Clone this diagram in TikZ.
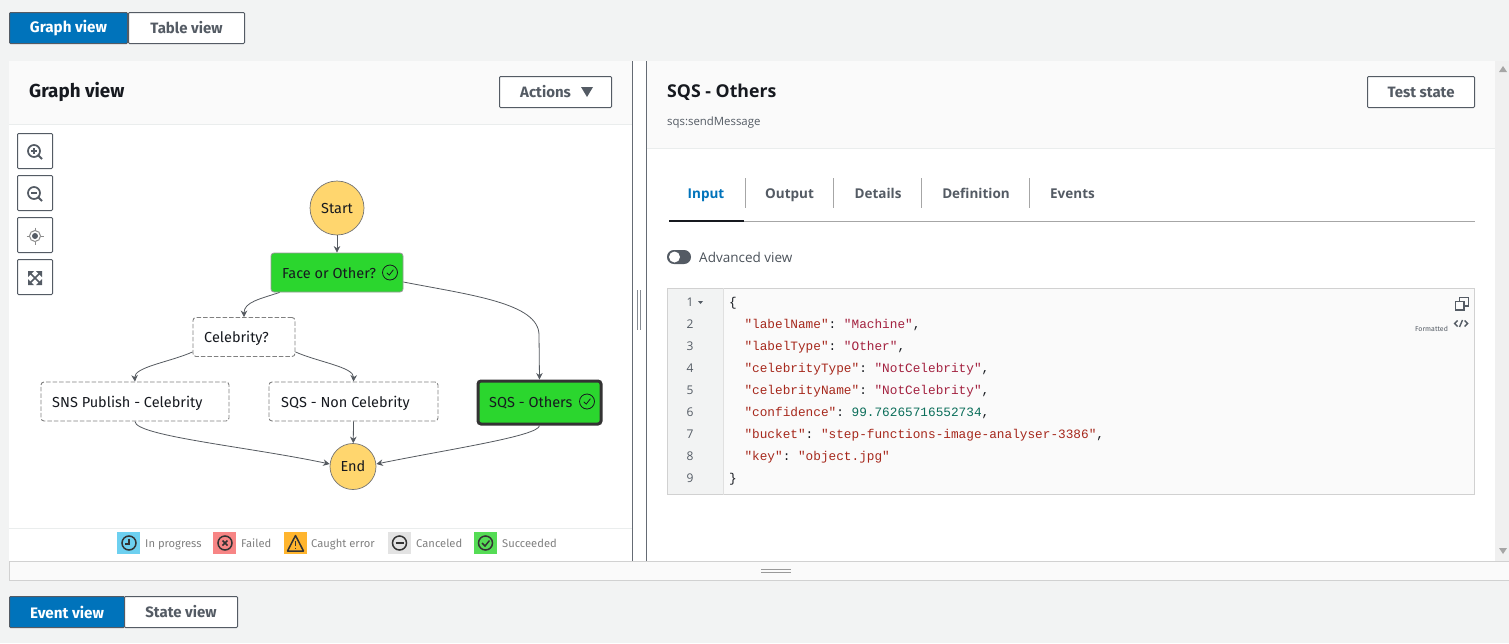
\documentclass[tikz,border=0pt]{standalone}
\usepackage{fontspec}
\usetikzlibrary{arrows.meta}
\setmainfont{Fira Sans}
\newfontfamily\panelfont{Open Sans}
\setmonofont{Liberation Mono}
\definecolor{pagebg}{HTML}{F2F3F3}
\definecolor{headbg}{HTML}{FAFAFA}
\definecolor{rulegrey}{HTML}{EAEDED}
\definecolor{awsblue}{HTML}{0073BB}
\definecolor{inkdark}{HTML}{16191F}
\definecolor{inkgrey}{HTML}{545B64}
\definecolor{okgreen}{HTML}{2BD62E}
\definecolor{startyellow}{HTML}{FFD66E}
\definecolor{edgegrey}{HTML}{555A60}
\definecolor{jsonkey}{HTML}{A6281C}
\definecolor{jsonstr}{HTML}{A3213F}
\definecolor{jsonnum}{HTML}{0B6E5A}
\tikzstyle{state}=[rounded corners=3pt,draw=black!40,line width=0.8pt,inner sep=0pt]
\tikzstyle{idle}=[state,draw=black!50,dash pattern=on 4.5pt off 2pt,line width=0.9pt,fill=white]
\tikzstyle{done}=[state,fill=okgreen]
\tikzstyle{terminal}=[circle,draw=black!55,line width=0.7pt,fill=startyellow,inner sep=0pt,font=\fontsize{14.5}{14}\selectfont,text=inkdark]
\tikzstyle{edge}=[edgegrey,line width=0.8pt,-{Stealth[length=6.5pt,width=6.5pt]}]
\tikzstyle{tabon}=[fill=awsblue,draw=inkgrey,line width=1pt,text=white,font=\fontsize{15.2}{14}\selectfont\bfseries,rounded corners=1pt,inner sep=0pt]
\tikzstyle{taboff}=[fill=white,draw=inkgrey,line width=1pt,text=inkgrey,font=\fontsize{15}{14}\selectfont\bfseries,rounded corners=1pt,inner sep=0pt]
\tikzstyle{legendtext}=[anchor=mid west,yshift=-1pt,inner sep=0pt,text=black!50,font=\fontsize{11.2}{12}\selectfont]
\tikzstyle{lefttext}=[anchor=mid west,yshift=-2.5pt,inner sep=0pt]
\tikzstyle{statetext}=[lefttext,text=inkdark,font=\fontsize{14.5}{14}\selectfont]
\tikzstyle{paneltab}=[anchor=mid,yshift=-2pt,inner sep=0pt,text=inkgrey,font=\panelfont\fontsize{13.5}{14}\selectfont\bfseries]
\tikzstyle{codeline}=[anchor=mid west,yshift=-2.2pt,inner sep=0pt,font=\ttfamily\fontsize{12.75}{14}\selectfont,text=inkdark]
\newcommand{\jkey}[1]{\textcolor{jsonkey}{#1}}
\newcommand{\jstr}[1]{\textcolor{jsonstr}{#1}}
\newcommand{\jnum}[1]{\textcolor{jsonnum}{#1}}
\newcommand{\okmark}[2]{%
  \draw[inkdark,line width=0.8pt] (#1,#2) circle (7.5pt);
  \draw[inkdark,line width=0.8pt] (#1-3.2,#2+0.3) -- (#1-0.8,#2+2.6) -- (#1+3.4,#2-2.8);}
\begin{document}
\begin{tikzpicture}[x=1pt,y=-1pt]
    \useasboundingbox (0,0) rectangle (1509,643);
    \fill[pagebg] (0,0) rectangle (1509,643);

    % panels
    \fill[white] (9,61) rectangle (1495,561);
    \fill[headbg] (9,61) rectangle (632,124);
    \fill[headbg] (647,61) rectangle (1495,148);
    \draw[rulegrey,line width=1pt] (9,124.5) -- (632,124.5);
    \draw[rulegrey,line width=1pt] (647,148.5) -- (1495,148.5);
    \draw[rulegrey,line width=1pt] (9,528.5) -- (632,528.5);
    \fill[black!6] (1495,61) rectangle (1509,561);
    \fill[black!35] (1499,72) -- (1507,72) -- (1503,66) -- cycle;
    \fill[black!35] (1499,548) -- (1507,548) -- (1503,554) -- cycle;
    \draw[inkgrey!90,line width=1pt] (632.5,61) -- (632.5,561);
    \draw[inkgrey!90,line width=1pt] (646.5,61) -- (646.5,561);
    \foreach \x in {637.5,640.5} \draw[inkgrey!70,line width=1pt] (\x,290) -- (\x,330);

    % strip below the panels
    \draw[black!18,line width=1pt,fill=headbg] (9.5,561.5) rectangle (1510,580.5);
    \foreach \y in {569.5,572.5} \draw[black!40,line width=1pt] (761,\y) -- (791,\y);

    % view switches
    \node (graphtab) at (68.5,28) [tabon,minimum width=118pt,minimum height=31pt] {Graph view};
    \node (tabletab) at (186.5,28) [taboff,minimum width=116pt,minimum height=31pt] {Table view};
    \node (eventtab) at (67,612) [tabon,minimum width=115pt,minimum height=31pt] {Event view};
    \node (statetab) at (181,612) [taboff,minimum width=113pt,minimum height=31pt] {State view};

    % left header
    \node (graphtitle) at (29,92.5) [lefttext,text=inkdark,font=\fontsize{18.8}{18}\selectfont\bfseries] {Graph view};
    \node (actions) at (555.5,92) [taboff,minimum width=112pt,minimum height=31pt] {};
    \node (actionstext) at (520,92) [lefttext,text=inkgrey,font=\fontsize{15}{14}\selectfont\bfseries] {Actions};
    \fill[inkgrey] (581,87) -- (593,87) -- (587,97) -- cycle;

    % zoom buttons
    \foreach \y/\n in {151/zin,193/zout,235/zcentre,277/zfit}
      \node (\n) at (35,\y) [draw=inkgrey,line width=1pt,fill=white,rounded corners=1pt,minimum size=35pt,inner sep=0pt] {};
    \foreach \y in {151,193} {
      \draw[inkgrey,line width=1.7pt] (34,\y) circle (6pt);
      \draw[inkgrey,line width=2pt] (38.5,\y+4.5) -- (42,\y+8);
      \draw[inkgrey,line width=1.5pt] (31,\y) -- (37,\y);
    }
    \draw[inkgrey,line width=1.5pt] (34,148) -- (34,154);
    \draw[black!45,line width=1pt] (35,236) circle (5.5pt);
    \fill[inkgrey] (35,236) circle (3pt);
    \draw[black!45,line width=1pt] (35,227.5) -- (35,230.5) (35,241.5) -- (35,244.5) (26.5,236) -- (29.5,236) (40.5,236) -- (43.5,236);
    \draw[inkgrey,line width=1.6pt] (29,272) -- (41,284) (41,272) -- (29,284);
    \fill[inkgrey] (28,271) -- (34,271) -- (28,277) -- cycle;
    \fill[inkgrey] (42,271) -- (36,271) -- (42,277) -- cycle;
    \fill[inkgrey] (28,285) -- (34,285) -- (28,279) -- cycle;
    \fill[inkgrey] (42,285) -- (36,285) -- (42,279) -- cycle;

    % states
    \node (start) at (337,208) [terminal,minimum size=54pt] {Start};
    \node (face) at (337,272.5) [done,minimum width=132pt,minimum height=39pt] {};
    \node (celebrity) at (244,337) [idle,minimum width=102pt,minimum height=39pt] {};
    \node (sns) at (135,401.5) [idle,minimum width=188pt,minimum height=39pt] {};
    \node (nonceleb) at (353.5,401.5) [idle,minimum width=169pt,minimum height=39pt] {};
    \node (others) at (539.5,402.5) [done,draw=black!80,line width=3pt,minimum width=123pt,minimum height=43pt] {};
    \node (end) at (353,466.5) [terminal,minimum size=46pt] {End};

    \node (facetext) at (282,273) [statetext] {Face or Other?};
    \node (celebritytext) at (204,337) [statetext] {Celebrity?};
    \node (snstext) at (52,402) [statetext] {SNS Publish - Celebrity};
    \node (noncelebtext) at (281,402) [statetext] {SQS - Non Celebrity};
    \node (otherstext) at (489,402) [statetext] {SQS - Others};
    \okmark{390}{272.5}
    \okmark{587}{401.5}

    \draw (start) -- (face) [edge];
    \draw (face.south west) ++(9,0) .. controls (260,299) and (244,302) .. (celebrity.north) [edge];
    \draw (face.east) ++(0,9.5) .. controls (470,295) and (539,303) .. (539,335) -- (others.north) [edge];
    \draw (celebrity.south west) ++(0,-5) .. controls (170,362) and (134,367) .. (sns.north) [edge];
    \draw (celebrity.south east) ++(0,-5) .. controls (318,362) and (354,367) .. (nonceleb.north) [edge];
    \draw (sns.south) .. controls (135,436) and (250,447) .. (end.west |- 0,464) [edge];
    \draw (nonceleb.south) -- (end) [edge];
    \draw (others.south) .. controls (539,436) and (450,449) .. (end.east |- 0,464) [edge];

    % legend
    \foreach \x/\c/\n/\t/\tx in {117/6DD0F0/inprog/In progress/145,213/F78585/failed/Failed/241,284/FFB52E/caught/Caught error/311,388/E3E3E3/cancel/Canceled/416,474/55DC55/succ/Succeeded/502} {
      \definecolor{swatch}{HTML}{\c}
      \fill[swatch] (\x,532) rectangle (\x+23,554);
      \node (\n) at (\tx,543.5) [legendtext] {\t};
    }
    \foreach \x in {129,225,399.5,485.5} \draw[black!80,line width=1.5pt] (\x,543) circle (7pt);
    \draw[black!80,line width=1.4pt] (129,538.5) -- (129,544) -- (125,544);
    \draw[black!80,line width=1.6pt] (222.5,540.5) -- (227.5,545.5) (227.5,540.5) -- (222.5,545.5);
    \draw[black!80,line width=1.5pt,line join=round] (295.5,535.5) -- (303.5,551) -- (287.5,551) -- cycle;
    \draw[black!80,line width=1.3pt] (295.5,541) -- (295.5,546) (295.5,547.5) -- (295.5,549);
    \draw[black!80,line width=1.6pt] (395.5,543) -- (403.5,543);
    \draw[black!80,line width=1.5pt] (482,543) -- (485,546) -- (489.5,540.5);

    % right header
    \node (paneltitle) at (667,92) [lefttext,text=inkdark,font=\panelfont\fontsize{17.7}{18}\selectfont\bfseries] {SQS - Others};
    \node (panelsub) at (667,120) [lefttext,text=inkgrey,font=\panelfont\fontsize{11.4}{12}\selectfont] {sqs:sendMessage};
    \node (teststate) at (1421,92) [taboff,minimum width=107pt,minimum height=31pt] {Test state};

    % tabs
    \node (input) at (706,193.5) [paneltab,text=awsblue] {Input};
    \node (output) at (789.5,193.5) [paneltab] {Output};
    \node (details) at (878,193.5) [paneltab] {Details};
    \node (definition) at (976,193.5) [paneltab] {Definition};
    \node (events) at (1072.5,193.5) [paneltab] {Events};
    \foreach \x in {745,833,921,1029} \draw[black!35,line width=1pt] (\x.5,178) -- (\x.5,208);
    \draw[black!35,line width=1pt] (669,221.5) -- (1475,221.5);
    \draw[inkdark,line width=2pt] (669,220.5) -- (744,220.5);

    % toggle
    \fill[inkgrey,rounded corners=6.9pt] (667,250) rectangle (691,264);
    \fill[white] (674.5,257) circle (5.5pt);
    \node (advanced) at (699,257) [lefttext,text=inkgrey!90!black,font=\panelfont\fontsize{13.5}{14}\selectfont] {Advanced view};

    % code box
    \fill[headbg] (667.5,288) rectangle (1475,495);
    \fill[pagebg] (667.5,288) rectangle (723.5,495);
    \draw[black!18,line width=1pt] (667.5,288) rectangle (1474.5,494.5);
    \draw[black!12,line width=1pt] (723.5,288) -- (723.5,494.5);
    \foreach \n/\y in {1/302,2/324,3/346,4/368,5/390,6/412,7/434,8/456,9/478}
      \node (num\n) at (690,\y) [anchor=mid,yshift=-2pt,inner sep=0pt,text=inkgrey,font=\panelfont\fontsize{12}{12}\selectfont] {\n};
    \fill[inkgrey] (698,301) -- (703,301) -- (700.5,304) -- cycle;
    \node (code1) at (729,302) [codeline] {\{};
    \node (code2) at (744.3,324) [codeline] {\jkey{"labelName"}: \jstr{"Machine"},};
    \node (code3) at (744.3,346) [codeline] {\jkey{"labelType"}: \jstr{"Other"},};
    \node (code4) at (744.3,368) [codeline] {\jkey{"celebrityType"}: \jstr{"NotCelebrity"},};
    \node (code5) at (744.3,390) [codeline] {\jkey{"celebrityName"}: \jstr{"NotCelebrity"},};
    \node (code6) at (744.3,412) [codeline] {\jkey{"confidence"}: \jnum{99.76265716552734},};
    \node (code7) at (744.3,434) [codeline] {\jkey{"bucket"}: \jkey{"step-functions-image-analyser-3386"},};
    \node (code8) at (744.3,456) [codeline] {\jkey{"key"}: \jkey{"object.jpg"}};
    \node (code9) at (729,478) [codeline] {\}};

    % copy and format icons
    \draw[inkgrey,line width=1.6pt,fill=headbg] (1459.5,297.5) rectangle (1468.5,306);
    \draw[inkgrey,line width=1.6pt,fill=headbg] (1455.5,301.5) rectangle (1464,310);
    \node (formatted) at (1415,326.5) [lefttext,text=inkgrey,font=\fontsize{7}{7}\selectfont] {Formatted};
    \draw[inkgrey,line width=1.4pt] (1457.5,320.5) -- (1454.5,323.5) -- (1457.5,326.5) (1464.5,320.5) -- (1467.5,323.5) -- (1464.5,326.5) (1462.5,320) -- (1459.5,327);
\end{tikzpicture}
\end{document}
